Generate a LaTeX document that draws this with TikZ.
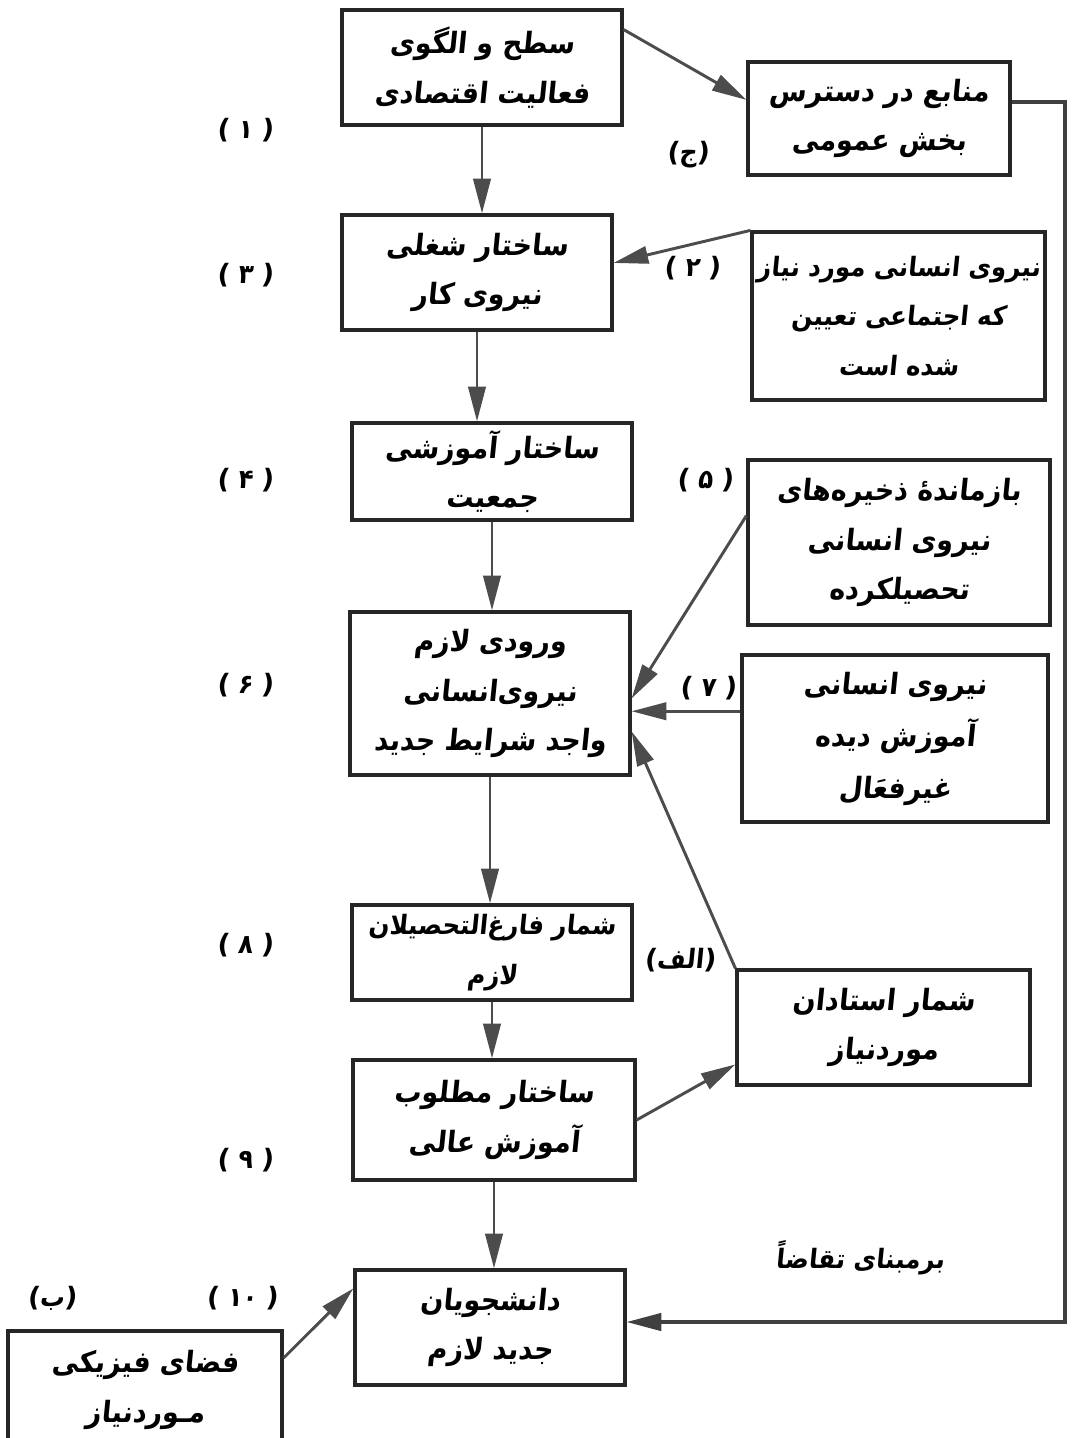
\documentclass[tikz,border=0pt]{standalone}
\usepackage{fontspec}
\usepackage{tikz}
\usetikzlibrary{arrows.meta}
\newfontfamily\arabicfont[Script=Arabic,FakeSlant=0.1,FakeStretch=0.92]{DejaVu Sans}
\newfontfamily\latinfont[FakeSlant=0.1]{DejaVu Sans}
\TeXXeTstate=1
\newcommand{\fatext}[1]{{\arabicfont\beginR #1\endR}}
\newcommand{\paren}[1]{{\latinfont(}#1{\latinfont)}}

\begin{document}
\begin{tikzpicture}[x=0.75pt,y=0.75pt,yscale=-1,xscale=1,
  box/.style={draw=black!85,line width=2.4pt,align=center,inner sep=0pt,font=\arabicfont\bfseries\fontsize{22}{37}\selectfont},
  arr/.style={draw=black!70,line width=2.2pt,-{Triangle[length=26pt,width=13pt]}},
  lbl/.style={inner sep=0.75pt,font=\arabicfont\bfseries\fontsize{20}{24}\selectfont}]
\useasboundingbox (0,0) rectangle (1072,1438);

%Boxes, middle column
\node[box,minimum width=210pt,minimum height=86.25pt] (eco) at (482,67.5) {\fatext{سطح و الگوی}\\\fatext{فعالیت اقتصادی}};
\node[box,minimum width=202.5pt,minimum height=86.25pt] (occ) at (477,272.5) {\fatext{ساختار شغلی}\\\fatext{نیروی کار}};
\node[box,minimum width=210pt,minimum height=72.75pt] (edu) at (492,471.5) {\fatext{ساختار آموزشی}\\\fatext{جمعیت}};
\node[box,minimum width=210pt,minimum height=122.25pt] (entry) at (490,693.5) {\fatext{ورودی لازم}\\\fatext{نیروی‌انسانی}\\\fatext{واجد شرایط جدید}};
\node[box,minimum width=210pt,minimum height=71.25pt,font=\arabicfont\bfseries\fontsize{20}{37}\selectfont] (grad) at (492,952.5) {\fatext{شمار فارغ‌التحصیلان}\\\fatext{لازم}};
\node[box,minimum width=211.5pt,minimum height=90pt] (higher) at (494,1120) {\fatext{ساختار مطلوب}\\\fatext{آموزش عالی}};
\node[box,minimum width=202.5pt,minimum height=86.25pt] (stud) at (490,1327.5) {\fatext{دانشجویان}\\\fatext{جدید لازم}};

%Boxes, right column
\node[box,minimum width=196.5pt,minimum height=84.75pt] (res) at (879,118.5) {\fatext{منابع در دسترس}\\\fatext{بخش عمومی}};
\node[box,minimum width=219.75pt,minimum height=126pt,font=\arabicfont\bfseries\fontsize{20}{37}\selectfont] (soc) at (898.5,316) {\fatext{نیروی انسانی مورد نیاز}\\\fatext{که اجتماعی تعیین}\\\fatext{شده است}};
\node[box,minimum width=226.5pt,minimum height=123.75pt] (stock) at (899,542.5) {\fatext{بازماندهٔ ذخیره‌های}\\\fatext{نیروی انسانی}\\\fatext{تحصیلکرده}};
\node[box,minimum width=229.5pt,minimum height=125.25pt,font=\arabicfont\bfseries\fontsize{22}{39}\selectfont] (idle) at (895,738.5) {\fatext{نیروی انسانی}\\\fatext{آموزش دیده}\\\fatext{غیرفعَال}};
\node[box,minimum width=219.75pt,minimum height=86.25pt] (prof) at (883.5,1027.5) {\fatext{شمار استادان}\\\fatext{موردنیاز}};

%Box, bottom left
\node[box,minimum width=205.5pt,minimum height=88.5pt] (space) at (145,1390) {\fatext{فضای فیزیکی}\\\fatext{مـوردنیاز}};

%Arrows down the middle
\draw[arr] (eco.south) -- (eco.south |- occ.north);
\draw[arr] (occ.south) -- (occ.south |- edu.north);
\draw[arr] (edu.south) -- (edu.south |- entry.north);
\draw[arr] (entry.south) -- (entry.south |- grad.north);
\draw[arr] (grad.south) -- (grad.south |- higher.north);
\draw[arr] (higher.south) -- (higher.south |- stud.north);

%Arrows from the sides
\draw[arr] (eco.15) -- (res.172);
\draw[arr] (soc.north west) -- (occ.4);
\draw[arr] (stock.170) -- (entry.-2);
\draw[arr] (idle.170) -- (idle.170 -| entry.east);
\draw[arr] (prof.north west) -- (entry.-15);
\draw[arr] (higher.east) -- (prof.194);
\draw[arr] (space.13) -- (stud.164);

%Loop back on the right
\coordinate (loop) at (1065,1322);
\draw[arr,draw=black!75,line width=2.6pt] (res.7) -| (loop) -- (stud.east |- loop);

%Labels
\node[lbl] (n1) at (245,130) {\paren{ ۱ }};
\node[lbl] (n2) at (692,268) {\paren{ ۲ }};
\node[lbl] (n3) at (245,275) {\paren{ ۳ }};
\node[lbl] (n4) at (245,480) {\paren{ ۴ }};
\node[lbl] (n5) at (705,480) {\paren{ ۵ }};
\node[lbl] (n6) at (245,685) {\paren{ ۶ }};
\node[lbl] (n7) at (708,688) {\paren{ ۷ }};
\node[lbl] (n8) at (245,945) {\paren{ ۸ }};
\node[lbl] (n9) at (245,1160) {\paren{ ۹ }};
\node[lbl] (n10) at (242,1298) {\paren{ ۱۰ }};
\node[lbl] (nj) at (688,155) {\paren{\beginR ج\endR}};
\node[lbl] (nalef) at (680,960) {\paren{\beginR الف\endR}};
\node[lbl] (nb) at (52,1298) {\paren{\beginR ب\endR}};
\node[lbl] (dem) at (860,1258) {\fatext{برمبنای تقاضاً}};

\end{tikzpicture}
\end{document}
